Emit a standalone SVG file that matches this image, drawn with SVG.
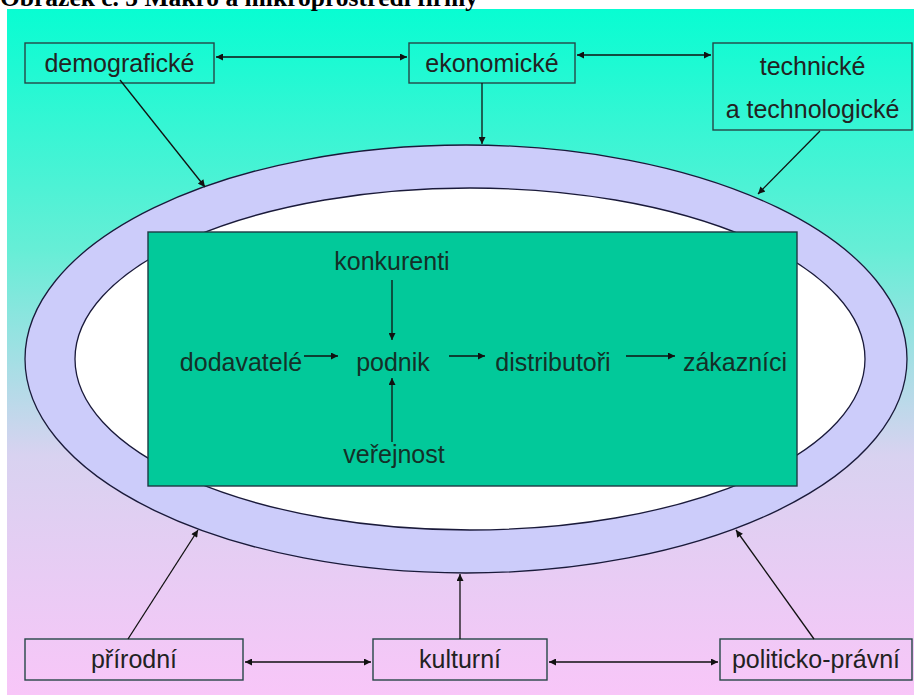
<svg xmlns="http://www.w3.org/2000/svg" width="914" height="695" viewBox="0 0 914 695">
  <defs>
    <linearGradient id="bg" x1="0" y1="0" x2="0" y2="1">
      <stop offset="0" stop-color="#08FDD2"/>
      <stop offset="0.35" stop-color="#66EED6"/>
      <stop offset="0.65" stop-color="#D8D2F0"/>
      <stop offset="1" stop-color="#F8C6F8"/>
    </linearGradient>
    <marker id="ah" viewBox="0 0 10 10" refX="10" refY="5" markerWidth="9" markerHeight="7" markerUnits="userSpaceOnUse" orient="auto-start-reverse">
      <path d="M0,0 L10,5 L0,10 z" fill="#111"/>
    </marker>
    <style>
      .box { fill: none; stroke: #264646; stroke-width: 1.4; }
      .lbl { font-family: "Liberation Sans", Arial, sans-serif; font-size: 25px; fill: #222; text-anchor: middle; }
      .in { font-family: "Liberation Sans", Arial, sans-serif; font-size: 25px; fill: #143028; text-anchor: middle; }
      .conn line { stroke: #111; stroke-width: 1.3; }
    </style>
  </defs>

  <rect x="0" y="0" width="914" height="695" fill="#ffffff"/>
  <rect x="7" y="9" width="907" height="686" fill="url(#bg)"/>
  <text x="0" y="6" font-family="Liberation Serif, 'Times New Roman', serif" font-weight="bold" font-size="25.5" fill="#000">Obrázek č. 5 Makro a mikroprostředí firmy</text>

  <g id="ring">
    <ellipse cx="466" cy="359" rx="441" ry="214" fill="#CCCCFA" stroke="#1a1a3a" stroke-width="1.3"/>
    <ellipse cx="470" cy="359" rx="395" ry="171" fill="#FFFFFF" stroke="#1a1a3a" stroke-width="1.3"/>
  </g>

  <g id="firma">
    <rect x="148" y="232" width="649" height="254" fill="#02C99A" stroke="#1d3a44" stroke-width="1.4"/>
  </g>

  <g id="demograficke">
    <rect class="box" x="25" y="43" width="189" height="40"/>
    <text class="lbl" x="119.5" y="72">demografické</text>
  </g>
  <g id="ekonomicke">
    <rect class="box" x="409" y="43" width="166" height="40"/>
    <text class="lbl" x="492" y="72">ekonomické</text>
  </g>
  <g id="technicke">
    <rect class="box" x="713" y="43" width="199" height="87"/>
    <text class="lbl" x="812.5" y="75">technické</text>
    <text class="lbl" x="812.5" y="118">a technologické</text>
  </g>
  <g id="prirodni">
    <rect class="box" x="25" y="639" width="218" height="41"/>
    <text class="lbl" x="134" y="668">přírodní</text>
  </g>
  <g id="kulturni">
    <rect class="box" x="373" y="639" width="174" height="41"/>
    <text class="lbl" x="460" y="668">kulturní</text>
  </g>
  <g id="politicko-pravni">
    <rect class="box" x="720" y="639" width="192" height="41"/>
    <text class="lbl" x="816" y="668">politicko-právní</text>
  </g>

  <g id="konkurenti"><text class="in" x="392" y="270">konkurenti</text></g>
  <g id="dodavatele"><text class="in" x="241" y="371">dodavatelé</text></g>
  <g id="podnik"><text class="in" x="393" y="371">podnik</text></g>
  <g id="distributori"><text class="in" x="553" y="371">distributoři</text></g>
  <g id="zakaznici"><text class="in" x="735" y="371">zákazníci</text></g>
  <g id="verejnost"><text class="in" x="394" y="463">veřejnost</text></g>

  <g id="connectors" class="conn">
    <line x1="216" y1="57" x2="407" y2="57" marker-start="url(#ah)" marker-end="url(#ah)"/>
    <line x1="577" y1="55" x2="711" y2="55" marker-start="url(#ah)" marker-end="url(#ah)"/>
    <line x1="482" y1="83" x2="482" y2="144" marker-end="url(#ah)"/>
    <line x1="120" y1="80" x2="205" y2="187" marker-end="url(#ah)"/>
    <line x1="820" y1="131" x2="758" y2="194" marker-end="url(#ah)"/>
    <line x1="245" y1="662" x2="371" y2="662" marker-start="url(#ah)" marker-end="url(#ah)"/>
    <line x1="549" y1="662" x2="718" y2="662" marker-start="url(#ah)" marker-end="url(#ah)"/>
    <line x1="460" y1="639" x2="460" y2="574" marker-end="url(#ah)"/>
    <line x1="128" y1="639" x2="198" y2="530" marker-end="url(#ah)"/>
    <line x1="814" y1="639" x2="736" y2="530" marker-end="url(#ah)"/>
    <line x1="392" y1="280" x2="392" y2="340" marker-end="url(#ah)"/>
    <line x1="392" y1="442" x2="392" y2="378" marker-end="url(#ah)"/>
    <line x1="304" y1="356" x2="338" y2="356" marker-end="url(#ah)"/>
    <line x1="449" y1="356" x2="485" y2="356" marker-end="url(#ah)"/>
    <line x1="626" y1="356" x2="675" y2="356" marker-end="url(#ah)"/>
  </g>
</svg>
